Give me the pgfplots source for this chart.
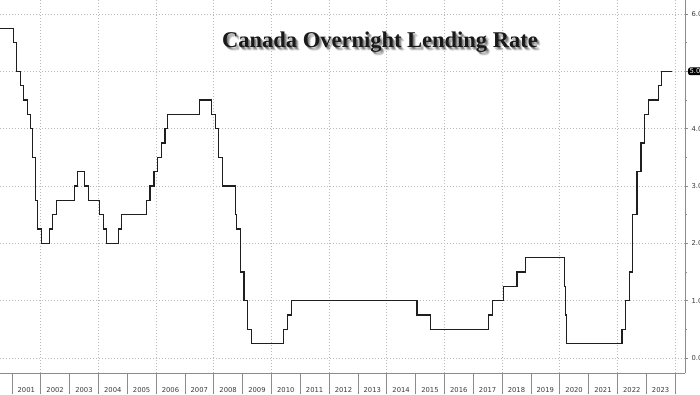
\documentclass[border=0pt]{standalone}
\usepackage{fontspec}
\setmainfont{DejaVu Sans}
\newfontfamily\titlefont{Liberation Serif}
\usepackage{pgfplots}
\pgfplotsset{compat=1.18}
\definecolor{gridc}{HTML}{B8B8B8}
\definecolor{axc}{HTML}{8C8C8C}
\definecolor{labc}{HTML}{3A3A3A}
\begin{document}
\begin{tikzpicture}
\clip (0pt,-21pt) rectangle (700pt,373pt);
\begin{axis}[
  at={(0pt,0pt)}, anchor=south west,
  scale only axis, width=685pt, height=373pt,
  xmin=2000.588, xmax=2024.347, ymin=-0.262, ymax=6.245,
  axis x line*=bottom, axis y line*=right,
  axis line style={axc, line width=0.6pt, -},
  clip=false,
  scaled x ticks=false,
  xtick={2000.5,2001.5,2002.5,2003.5,2004.5,2005.5,2006.5,2007.5,2008.5,2009.5,2010.5,2011.5,2012.5,2013.5,2014.5,2015.5,2016.5,2017.5,2018.5,2019.5,2020.5,2021.5,2022.5,2023.5},
  xticklabels={2000,2001,2002,2003,2004,2005,2006,2007,2008,2009,2010,2011,2012,2013,2014,2015,2016,2017,2018,2019,2020,2021,2022,2023},
  x tick style={draw=none},
  xticklabel style={anchor=center, yshift=-14.5pt, inner sep=1pt, overlay},
  ytick={0,1,2,3,4,5,6},
  minor y tick num=1,
  y tick style={axc, line width=0.5pt},
  tick align=outside, major tick length=3pt, minor tick length=2pt,
  yticklabel style={overlay, /pgf/number format/.cd, fixed, fixed zerofill, precision=1, assume math mode=true},
  ymajorgrids,
  major grid style={gridc, line width=0.6pt, dash pattern=on 1pt off 2pt},
  tick label style={font=\fontsize{6.8}{8}\selectfont, text=labc},
]
\pgfplotsinvokeforeach{2002,2004,2006,2008,2010,2012,2014,2016,2018,2020,2022,2024}{
  \draw[gridc, line width=0.6pt, dash pattern=on 1pt off 2pt] (axis cs:#1,-0.262) -- (axis cs:#1,6.245);
}
\pgfplotsinvokeforeach{2001,2002,2003,2004,2005,2006,2007,2008,2009,2010,2011,2012,2013,2014,2015,2016,2017,2018,2019,2020,2021,2022,2023,2024}{
  \draw[axc, line width=0.5pt] (axis cs:#1,-0.262) -- (axis cs:#1,-0.628);
}
\addplot[const plot, color=black!88, line width=1.1pt] table {
x y
2000.50 5.75
2001.06 5.50
2001.17 5.00
2001.29 4.75
2001.41 4.50
2001.54 4.25
2001.65 4.00
2001.71 3.50
2001.81 2.75
2001.90 2.25
2002.04 2.00
2002.29 2.25
2002.42 2.50
2002.54 2.75
2003.17 3.00
2003.28 3.25
2003.53 3.00
2003.67 2.75
2004.05 2.50
2004.17 2.25
2004.28 2.00
2004.69 2.25
2004.80 2.50
2005.68 2.75
2005.79 3.00
2005.93 3.25
2006.06 3.50
2006.18 3.75
2006.31 4.00
2006.39 4.25
2007.52 4.50
2007.92 4.25
2008.06 4.00
2008.17 3.50
2008.30 3.00
2008.77 2.50
2008.80 2.25
2008.94 1.50
2009.05 1.00
2009.17 0.50
2009.30 0.25
2010.41 0.50
2010.55 0.75
2010.69 1.00
2015.05 0.75
2015.53 0.50
2017.53 0.75
2017.68 1.00
2018.04 1.25
2018.52 1.50
2018.81 1.75
2020.17 1.25
2020.20 0.75
2020.24 0.25
2022.16 0.50
2022.28 1.00
2022.41 1.50
2022.53 2.50
2022.68 3.25
2022.82 3.75
2022.93 4.25
2023.07 4.50
2023.43 4.75
2023.53 5.00
2023.88 5.00
};
\node[overlay, fill=black, text=white, rounded corners=2pt, anchor=west, inner sep=1.3pt, xshift=3pt, font=\fontsize{6.8}{8}\selectfont] at (axis cs:2024.347,5) {5.00};
\end{axis}
\foreach \dx/\dy/\op in {3/-3/0.07, 2.5/-2.5/0.1, 2/-2/0.13, 1.5/-1.5/0.15, 3.5/-2.5/0.06, 2.5/-3.5/0.06, 1/-1/0.15}{
  \node[anchor=base, text=black, opacity=\op, font=\titlefont\bfseries\fontsize{22.5}{24}\selectfont] at (380pt+\dx pt,325pt+\dy pt) {Canada Overnight Lending Rate};
}
\node[anchor=base, text=black!90, font=\titlefont\bfseries\fontsize{22.5}{24}\selectfont] at (380pt,325pt) {Canada Overnight Lending Rate};
\end{tikzpicture}
\end{document}
